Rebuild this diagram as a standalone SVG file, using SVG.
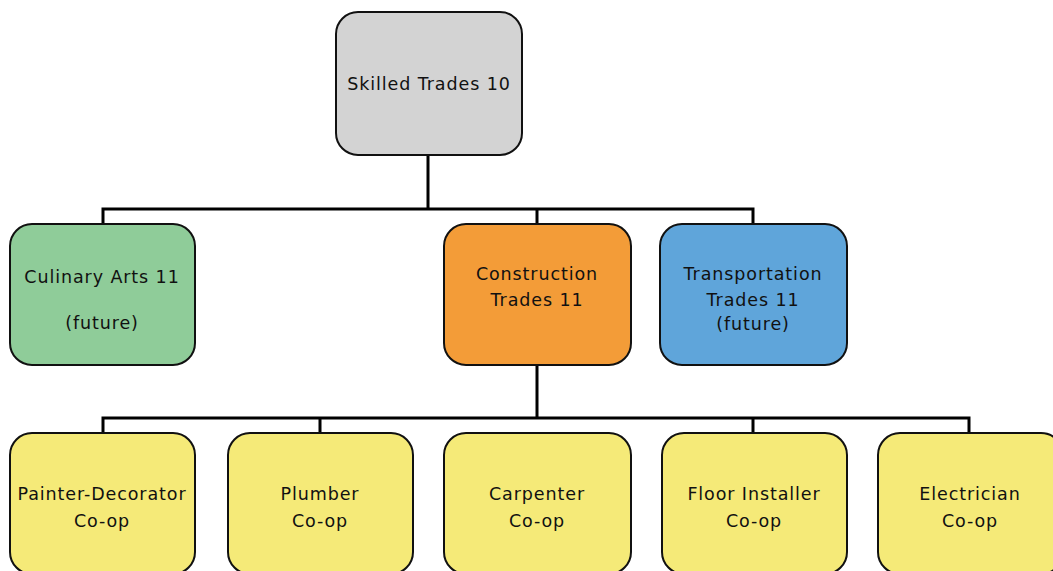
<svg xmlns="http://www.w3.org/2000/svg" width="1053" height="571" viewBox="0 0 1053 571">
<style>
.box{stroke:#111;stroke-width:2}
.t{font-family:"DejaVu Sans",sans-serif;font-size:17.5px;letter-spacing:0.9px;fill:#111;text-anchor:middle}
.c{fill:none;stroke:#000;stroke-width:3}
</style>
<rect width="1053" height="571" fill="#fff"/>
<g id="connectors">
<path class="c" d="M428 155V209M103 224V209H753V224M537 209V224"/>
<path class="c" d="M537 365V418M103 433V418H969V433M320 418V433M753 418V433"/>
</g>
<g id="skilled-trades-10">
<rect class="box" x="336" y="12" width="186" height="143" rx="22" fill="#d3d3d3"/>
<text class="t" x="429" y="90">Skilled Trades 10</text>
</g>
<g id="culinary-arts-11">
<rect class="box" x="10" y="224" width="185" height="141" rx="22" fill="#8fcc99"/>
<text class="t" x="102" y="283">Culinary Arts 11</text>
<text class="t" x="102" y="329">(future)</text>
</g>
<g id="construction-trades-11">
<rect class="box" x="444" y="224" width="187" height="141" rx="22" fill="#f39c38"/>
<text class="t" x="537" y="280">Construction</text>
<text class="t" x="537" y="306">Trades 11</text>
</g>
<g id="transportation-trades-11">
<rect class="box" x="660" y="224" width="187" height="141" rx="22" fill="#5fa5da"/>
<text class="t" x="753" y="280">Transportation</text>
<text class="t" x="753" y="306">Trades 11</text>
<text class="t" x="753" y="330">(future)</text>
</g>
<g id="painter-decorator">
<rect class="box" x="10" y="433" width="185" height="141" rx="22" fill="#f5ea78"/>
<text class="t" x="102" y="500">Painter-Decorator</text>
<text class="t" x="102" y="527">Co-op</text>
</g>
<g id="plumber">
<rect class="box" x="228" y="433" width="185" height="141" rx="22" fill="#f5ea78"/>
<text class="t" x="320" y="500">Plumber</text>
<text class="t" x="320" y="527">Co-op</text>
</g>
<g id="carpenter">
<rect class="box" x="444" y="433" width="187" height="141" rx="22" fill="#f5ea78"/>
<text class="t" x="537" y="500">Carpenter</text>
<text class="t" x="537" y="527">Co-op</text>
</g>
<g id="floor-installer">
<rect class="box" x="662" y="433" width="185" height="141" rx="22" fill="#f5ea78"/>
<text class="t" x="754" y="500">Floor Installer</text>
<text class="t" x="754" y="527">Co-op</text>
</g>
<g id="electrician">
<rect class="box" x="878" y="433" width="185" height="141" rx="22" fill="#f5ea78"/>
<text class="t" x="970" y="500">Electrician</text>
<text class="t" x="970" y="527">Co-op</text>
</g>
</svg>
